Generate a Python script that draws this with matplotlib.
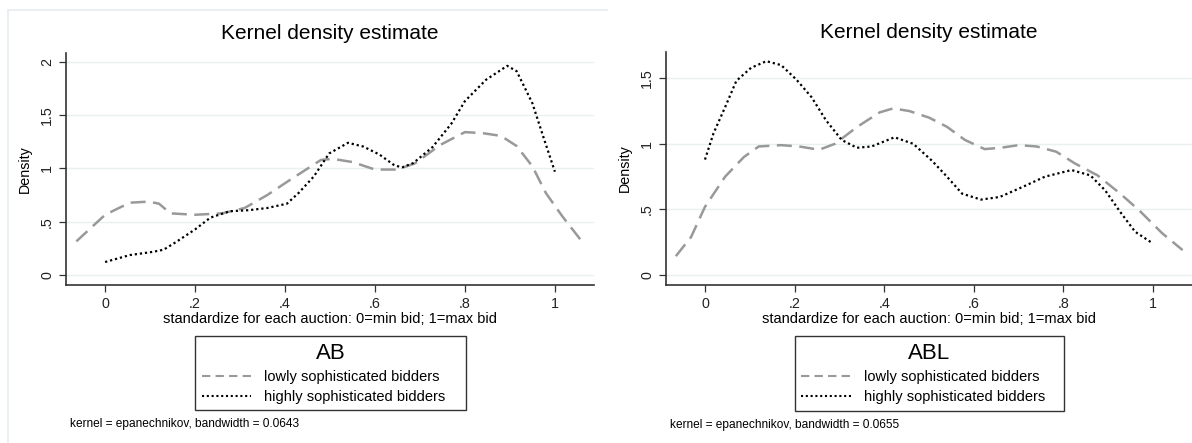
import matplotlib.pyplot as plt
from matplotlib.lines import Line2D
from matplotlib.ticker import FuncFormatter

plt.rcParams['font.family'] = ['Liberation Sans', 'DejaVu Sans']

# Left panel (AB)
ab_low_x = [-0.064, 0.0, 0.055, 0.098, 0.12, 0.145, 0.2, 0.26, 0.31, 0.36, 0.41, 0.48, 0.506,
            0.55, 0.6, 0.65, 0.69, 0.745, 0.80, 0.84, 0.88, 0.915, 0.95, 0.98, 1.017, 1.06]
ab_low_y = [0.318, 0.567, 0.68, 0.69, 0.67, 0.58, 0.567, 0.58, 0.63, 0.75, 0.89, 1.08, 1.09,
            1.06, 0.99, 0.99, 1.05, 1.22, 1.34, 1.33, 1.305, 1.21, 1.02, 0.77, 0.55, 0.318]
ab_high_x = [0.0, 0.055, 0.106, 0.13, 0.157, 0.2, 0.234, 0.277, 0.32, 0.36, 0.404, 0.43, 0.464,
             0.498, 0.54, 0.574, 0.61, 0.643, 0.66, 0.685, 0.728, 0.77, 0.80, 0.847, 0.894,
             0.915, 0.95, 0.974, 1.0]
ab_high_y = [0.125, 0.19, 0.22, 0.24, 0.31, 0.43, 0.54, 0.60, 0.61, 0.63, 0.67, 0.77, 0.925,
             1.14, 1.24, 1.205, 1.13, 1.03, 1.01, 1.05, 1.2, 1.42, 1.63, 1.83, 1.96,
             1.91, 1.61, 1.30, 0.97]

# Right panel (ABL)
abl_low_x = [-0.065, -0.031, 0.0, 0.045, 0.087, 0.12, 0.17, 0.21, 0.255, 0.29, 0.34, 0.39, 0.42,
             0.456, 0.50, 0.54, 0.58, 0.624, 0.66, 0.70, 0.74, 0.784, 0.826, 0.876, 0.927,
             0.97, 1.02, 1.066]
abl_low_y = [0.144, 0.29, 0.52, 0.75, 0.90, 0.98, 0.99, 0.98, 0.955, 1.0, 1.13, 1.24, 1.27,
             1.25, 1.20, 1.13, 1.03, 0.96, 0.97, 0.99, 0.98, 0.94, 0.85, 0.76, 0.62,
             0.49, 0.32, 0.19]
abl_high_x = [0.0, 0.019, 0.045, 0.07, 0.103, 0.137, 0.17, 0.204, 0.238, 0.27, 0.305, 0.339,
              0.372, 0.423, 0.465, 0.507, 0.54, 0.574, 0.616, 0.658, 0.708, 0.759, 0.818,
              0.86, 0.893, 0.927, 0.96, 1.0]
abl_high_y = [0.88, 1.08, 1.28, 1.48, 1.58, 1.63, 1.60, 1.49, 1.355, 1.18, 1.03, 0.97,
              0.98, 1.05, 1.0, 0.87, 0.75, 0.62, 0.575, 0.595, 0.67, 0.75, 0.80,
              0.76, 0.646, 0.48, 0.33, 0.24]

x_ticks = [0, 0.2, 0.4, 0.6, 0.8, 1]
ab_yticks = [0, 0.5, 1, 1.5, 2]
abl_yticks = [0, 0.5, 1, 1.5]

W, H = 1192, 443
fig = plt.figure(figsize=(W / 100, H / 100), dpi=100)


def stata_fmt(v, pos=None):
    s = f'{v:g}'
    if s.startswith('0.'):
        s = s[1:]
    return s


def px_axes(left, top, right, bottom):
    return fig.add_axes([left / W, 1 - bottom / H, (right - left) / W, (bottom - top) / H])


def draw_panel(ax, low_x, low_y, high_x, high_y, yticks, ylim, tag, bw):
    ax.plot(low_x, low_y, color='#999999', lw=1.8, dashes=(6, 3))
    ax.plot(high_x, high_y, color='black', lw=1.6, ls=(0, (1, 1.3)))
    ax.set_xlim(-0.087, 1.087)
    ax.set_ylim(*ylim)
    ax.set_xticks(x_ticks)
    ax.set_yticks(yticks)
    ax.xaxis.set_major_formatter(FuncFormatter(stata_fmt))
    ax.yaxis.set_major_formatter(FuncFormatter(stata_fmt))
    ax.grid(axis='y', color='#e8f0f2', lw=1.0)
    ax.set_axisbelow(True)
    for s in ['top', 'right']:
        ax.spines[s].set_visible(False)
    for s in ['left', 'bottom']:
        ax.spines[s].set_color('#333333')
        ax.spines[s].set_linewidth(1.2)
    ax.tick_params(direction='out', length=5, width=0.9, color='#333333', labelsize=10.3,
                   labelcolor='#222222')
    plt.setp(ax.get_yticklabels(), rotation=90, va='center')
    ax.set_title('Kernel density estimate', fontsize=15, pad=10)
    ax.set_ylabel('Density', fontsize=10.3, labelpad=6)
    ax.set_xlabel('standardize for each auction: 0=min bid; 1=max bid', fontsize=10.5,
                  labelpad=1)

    # legend box below the plot, fixed width like the Stata key
    handles = [Line2D([], [], color='#999999', lw=1.5, dashes=(4, 2.5)),
               Line2D([], [], color='black', lw=1.5, ls=(0, (1, 1.3)))]
    leg = ax.legend(handles, ['lowly sophisticated bidders', 'highly sophisticated bidders'],
                    title=tag, title_fontsize=16, fontsize=10.5, loc='upper left',
                    bbox_to_anchor=(0.2443, -0.22, 0.513, 0.0), mode='expand',
                    frameon=True, fancybox=False, handlelength=3.4, borderpad=0.45,
                    labelspacing=0.42, handletextpad=0.9, borderaxespad=0)
    leg.get_frame().set_edgecolor('black')
    leg.get_frame().set_linewidth(1.0)
    ax.text(0.0075, -0.60, f'kernel = epanechnikov, bandwidth = {bw}', fontsize=8.6,
            transform=ax.transAxes, va='center', ha='left')


ax1 = px_axes(66, 53, 594, 285)
draw_panel(ax1, ab_low_x, ab_low_y, ab_high_x, ab_high_y, ab_yticks, (-0.09, 2.08),
           'AB', '0.0643')

ax2 = px_axes(666, 52, 1192, 285)
draw_panel(ax2, abl_low_x, abl_low_y, abl_high_x, abl_high_y, abl_yticks, (-0.076, 1.70),
           'ABL', '0.0655')

# faint frame around the left graph
fig.add_artist(Line2D([8 / W, 607 / W], [1 - 10 / H, 1 - 10 / H], color='#e6eef0', lw=1.2))
fig.add_artist(Line2D([8 / W, 8 / W], [1 - 10 / H, 0], color='#e6eef0', lw=1.2))

fig.savefig('out.png', dpi=100)
